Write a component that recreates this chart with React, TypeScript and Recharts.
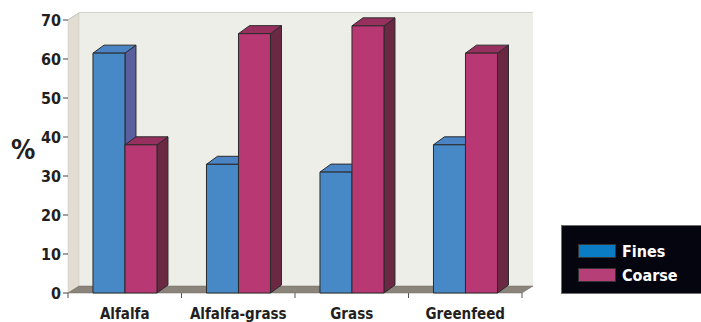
import { BarChart, Bar, XAxis, YAxis, CartesianGrid, ReferenceArea } from "recharts";

// values
const categories = ["Alfalfa", "Alfalfa-grass", "Grass", "Greenfeed"];
const fines = [61.5, 33, 31, 38];
const coarse = [38, 66.5, 68.5, 61.5];
const yTicks = [0, 10, 20, 30, 40, 50, 60, 70];
const seriesNames = ["Fines", "Coarse"];

const data = categories.map((name, i) => ({ name, fines: fines[i], coarse: coarse[i] }));

const FONT = '"Liberation Sans Narrow", "Arial Narrow", "DejaVu Sans Condensed", sans-serif';
const DX = 11; // depth of the 3d effect
const DY = 7;

const legendColors = ["#0a7cc4", "#b63f78"];

const make3DBar = (front: string, top: string, side: string) => (props: any) => {
   const { x, y, width, height } = props;
   if (!height || height <= 0) return null;
   const bx = x + width;
   const by = y + height;
   return (
      <g stroke="#2b2b2b" strokeWidth={1} strokeLinejoin="round">
         <polygon points={`${bx},${y} ${bx + DX},${y - DY - 1} ${bx + DX},${by - DY - 1} ${bx},${by}`} fill={side} />
         <polygon points={`${x},${y} ${x + DX},${y - DY - 1} ${bx + DX},${y - DY - 1} ${bx},${y}`} fill={top} />
         <rect x={x} y={y} width={width} height={height} fill={front} />
      </g>
   );
};

// back wall, side wall and floor of the box
const Walls = (props: any) => {
   const { x, y, width, height } = props;
   const bottom = y + height;
   const right = x + width;
   const step = width / categories.length;
   return (
      <g>
         <polygon points={`${x + DX},${y - DY} ${right + DX},${y - DY} ${right + DX},${bottom - DY} ${x + DX},${bottom - DY}`} fill="#eeeee8" />
         <polygon points={`${x},${y} ${x + DX},${y - DY} ${x + DX},${bottom - DY} ${x},${bottom}`} fill="#e1ddd2" stroke="#c9c5bb" strokeWidth={0.5} />
         <polygon points={`${x},${bottom} ${right},${bottom} ${right + DX},${bottom - DY} ${x + DX},${bottom - DY}`} fill="#8a847b" stroke="#6e6961" strokeWidth={0.5} />
         {categories.map((c, i) => (
            <line key={c} x1={x + step * (i + 1)} y1={bottom} x2={x + step * (i + 1)} y2={bottom + 5} stroke="#555" strokeWidth={1} />
         ))}
         <line x1={x} y1={bottom} x2={x} y2={bottom + 5} stroke="#555" strokeWidth={1} />
      </g>
   );
};

const GridLine = (props: any) => {
   const { x1, y1, x2 } = props;
   if (y1 === undefined) return null;
   return (
      <g stroke="#a3a3a0" strokeWidth={1} fill="none">
         <line x1={x1} y1={y1} x2={x1 + DX} y2={y1 - DY} />
         <line x1={x1 + DX} y1={y1 - DY} x2={x2 + DX} y2={y1 - DY} />
      </g>
   );
};

const CategoryTick = (props: any) => {
   const { x, y, payload } = props;
   return (
      <text x={x} y={y + 18} textAnchor="middle" fontFamily={FONT} fontWeight="bold" fontSize={15} fill="#231f20">
         {payload.value}
      </text>
   );
};

const ValueTick = (props: any) => {
   const { x, y, payload } = props;
   return (
      <text x={x} y={y + 6} textAnchor="end" fontFamily={FONT} fontWeight="bold" fontSize={16} fill="#231f20">
         {payload.value}
      </text>
   );
};

const LegendBox = () => (
   <div style={{ position: "absolute", left: 561, top: 225, width: 150, height: 69, background: "#05050f", border: "1px solid #6d6d6d", boxSizing: "border-box", paddingTop: 13, paddingLeft: 16 }}>
      {seriesNames.map((n, i) => (
         <div key={n} style={{ display: "flex", alignItems: "center", height: 24, fontFamily: FONT, fontWeight: "bold", fontSize: 16, color: "#fff" }}>
            <span style={{ display: "inline-block", width: 36, height: 12, background: legendColors[i], border: "1px solid #333", marginRight: 6 }} />
            {n}
         </div>
      ))}
   </div>
);

const App = () => {
   return (
      <div style={{ position: "absolute", left: 0, top: 0, width: 701, height: 322, background: "#fff", overflow: "hidden" }}>
         <BarChart width={701} height={322} data={data} margin={{ top: 20, right: 179, bottom: 0, left: 0 }} barGap={0} barCategoryGap="22%">
            <ReferenceArea y1={0} y2={70} shape={<Walls />} ifOverflow="visible" />
            <CartesianGrid vertical={false} horizontal={<GridLine />} />
            <XAxis dataKey="name" height={29} axisLine={false} tickLine={false} tick={<CategoryTick />} interval={0} />
            <YAxis
               width={68}
               domain={[0, 70]}
               ticks={yTicks}
               axisLine={false}
               tickLine={{ stroke: "#444" }}
               tickSize={5}
               tick={<ValueTick />}
               label={{ value: "%", position: "insideLeft", offset: 11, dy: -7, style: { fontFamily: FONT, fontWeight: "bold", fontSize: 27, fill: "#231f20" } }}
            />
            <Bar dataKey="fines" name={seriesNames[0]} fill="#4788c7" shape={make3DBar("#4788c7", "#4b84c4", "#5a5f9f")} isAnimationActive={false} />
            <Bar dataKey="coarse" name={seriesNames[1]} fill="#b73872" shape={make3DBar("#b73872", "#98305f", "#6a2843")} isAnimationActive={false} />
         </BarChart>
         <LegendBox />
      </div>
   );
};

export default App;
